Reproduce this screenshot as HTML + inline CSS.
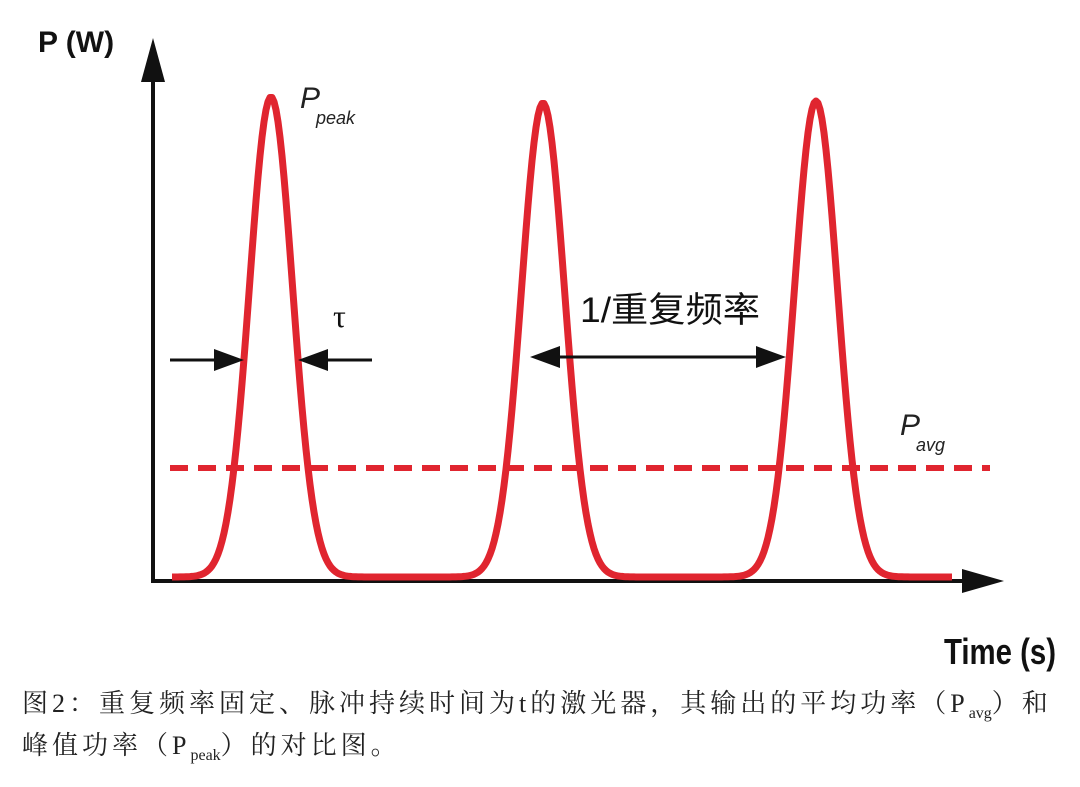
<!DOCTYPE html>
<html><head><meta charset="utf-8"><style>
body{margin:0;background:#fff;width:1080px;height:787px;overflow:hidden;position:relative}
.cap{position:absolute;left:22px;font-family:"Liberation Serif","Noto Serif CJK SC",serif;font-size:26px;color:#222;white-space:nowrap;letter-spacing:4px}
sub{font-size:16px;letter-spacing:0}
</style></head><body>
<svg width="1080" height="787" style="position:absolute;left:0;top:0">
<line x1="153" y1="70" x2="153" y2="583" stroke="#111" stroke-width="4"/>
<polygon points="153,38 141,82 165,82" fill="#111"/>
<line x1="151" y1="581" x2="975" y2="581" stroke="#111" stroke-width="4"/>
<polygon points="1004,581 962,569 962,593" fill="#111"/>
<line x1="170" y1="468" x2="990" y2="468" stroke="#e0252f" stroke-width="6" stroke-dasharray="18,10"/>
<path id="p" fill="none" stroke="#e0252f" stroke-width="7" stroke-linejoin="round"/>
<line x1="170" y1="360" x2="225" y2="360" stroke="#111" stroke-width="3"/>
<polygon points="244,360 214,349 214,371" fill="#111"/>
<line x1="318" y1="360" x2="372" y2="360" stroke="#111" stroke-width="3"/>
<polygon points="298,360 328,349 328,371" fill="#111"/>
<line x1="550" y1="357" x2="765" y2="357" stroke="#111" stroke-width="3"/>
<polygon points="530,357 560,346 560,368" fill="#111"/>
<polygon points="786,357 756,346 756,368" fill="#111"/>
<text x="38" y="52" font-family="Liberation Sans" font-weight="bold" font-size="30" fill="#111">P (W)</text>
<text x="300" y="108" font-family="Liberation Sans" font-style="italic" font-size="30" fill="#222">P</text>
<text x="316" y="124" font-family="Liberation Sans" font-style="italic" font-size="18" fill="#222">peak</text>
<text x="900" y="435" font-family="Liberation Sans" font-style="italic" font-size="30" fill="#222">P</text>
<text x="916" y="451" font-family="Liberation Sans" font-style="italic" font-size="18" fill="#222">avg</text>
<text x="333" y="327" font-family="Liberation Serif" font-size="32" fill="#111">τ</text>
<text x="580" y="322" font-family="Liberation Sans,Noto Sans CJK SC,sans-serif" font-size="35" fill="#111" textLength="180" lengthAdjust="spacingAndGlyphs">1/重复频率</text>
<text x="944" y="664" font-family="Liberation Sans" font-weight="bold" font-size="36" fill="#111" textLength="112" lengthAdjust="spacingAndGlyphs">Time (s)</text>
</svg>
<div class="cap" style="top:683px">图2：重复频率固定、脉冲持续时间为t的激光器，其输出的平均功率（P<sub>avg</sub>）和</div>
<div class="cap" style="top:725px">峰值功率（P<sub>peak</sub>）的对比图。</div>
<script>
var cs=[[271,97],[543,103],[816,101]],d="";
for(var x=172;x<=952;x+=2){var y=577;for(var i=0;i<3;i++){var c=cs[i][0],h=577-cs[i][1];y-=h*Math.exp(-Math.pow(x-c,2)/(2*21.5*21.5));}d+=(x==172?"M":"L")+x+","+y.toFixed(1);}
document.getElementById("p").setAttribute("d",d);
</script>
</body></html>
